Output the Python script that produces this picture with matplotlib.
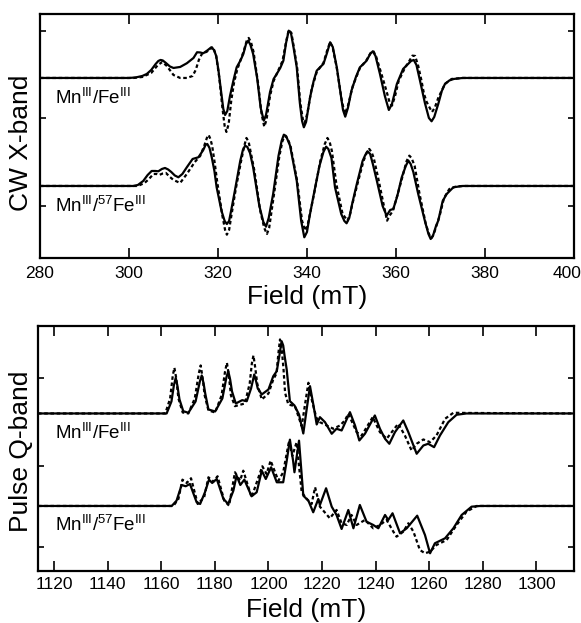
import matplotlib
matplotlib.use('Agg')
import matplotlib.pyplot as plt

plt.rcParams['font.family'] = ['Liberation Sans', 'DejaVu Sans']
plt.rcParams['mathtext.fontset'] = 'custom'
plt.rcParams['mathtext.rm'] = 'Liberation Sans'
plt.rcParams['mathtext.it'] = 'Liberation Sans'

# (field in mT, intensity in arbitrary units relative to the trace baseline)
# CW X-band, Mn(III)/Fe(III): experiment (solid) and simulation (dashed)
cw_fe_exp = [(280, 0), (300, 0), (301.5, 0.5), (303, 2), (304, 4), (305, 8), (306, 14),
             (306.6, 17), (307.1, 18), (307.6, 17.5), (308.3, 15), (309.2, 11.5),
             (310, 10), (311.5, 11), (313, 14.7), (314.5, 20), (315.3, 25.7),
             (316, 25.5), (316.7, 24.7), (317.6, 27.5), (318.5, 30.7), (319.1, 28),
             (319.6, 22), (320.1, 8), (320.6, -10), (321.2, -31), (321.6, -37),
             (322.1, -33), (322.7, -18), (323.5, -2), (324.2, 10.7), (325, 17),
             (325.7, 24), (326.3, 34), (326.8, 37.3), (327.3, 33), (327.9, 24),
             (328.8, 0), (329.6, -30), (330.3, -42.7), (330.8, -37), (331.7, -14),
             (332.5, -1), (333.2, 4), (334, 10), (334.7, 17.3), (335.3, 35),
             (335.9, 47.3), (336.4, 45), (337, 30), (337.7, 10.7), (338.4, -25),
             (338.9, -43), (339.3, -49.3), (339.8, -44), (340.7, -19.3), (341.5, -3),
             (342.2, 7.3), (343, 11), (343.7, 14), (344.5, 25), (345.2, 35.7),
             (345.8, 31), (346.7, 10.7), (347.7, -20), (348.1, -32), (348.6, -38.7),
             (349.2, -30), (350, -12.7), (351, 1), (351.9, 10.7), (352.7, 14),
             (353.4, 17.3), (354.2, 24), (354.8, 26.7), (355.4, 22), (356.4, 4),
             (357.5, -18), (358.4, -32), (359.1, -26), (360.2, -6), (361.6, 9),
             (362.5, 13), (363.4, 17), (364, 18), (364.6, 13), (365.4, -2.7),
             (366.5, -25), (367.4, -40), (368, -43.3), (368.6, -39), (369.5, -26),
             (370.3, -13), (371, -6), (372, -2.5), (373, -1), (375, 0), (400, 0)]
cw_fe_sim = [(280, 0), (301, 0), (303, 1), (305, 5), (306.5, 13), (307.5, 16),
             (308.5, 12), (310, 3), (311.5, 0), (313, 0), (314.3, 2), (315, 8),
             (315.7, 18), (316.5, 25), (317.4, 26), (318.3, 29), (318.9, 31),
             (319.6, 22), (320.3, 0), (321, -30), (321.5, -48), (321.9, -54),
             (322.4, -46), (323, -22), (323.6, -5), (324.3, 8), (325, 17),
             (325.8, 27), (326.5, 38), (326.9, 40), (327.4, 36), (328, 26),
             (329, -5), (329.8, -36), (330.4, -48.7), (330.9, -42), (331.7, -18),
             (332.5, -3), (333.3, 5), (334.5, 17), (335.3, 36), (335.9, 48),
             (336.5, 45), (337, 32), (337.8, 10), (338.5, -25), (339.1, -42),
             (339.5, -45), (340.1, -35), (341, -12), (342.2, 6), (343.7, 15),
             (344.5, 27), (345.2, 36), (345.8, 30), (346.7, 10), (347.8, -22),
             (348.5, -36), (349.2, -28), (350.3, -8), (351.9, 10), (353.4, 18),
             (354.3, 25), (354.9, 27), (355.5, 22), (356.6, 6), (357.8, -12),
             (358.6, -25), (359.1, -27.7), (359.8, -18), (360.6, -3), (362, 10),
             (363, 17), (363.7, 22.3), (364.3, 22), (365, 12), (365.7, -2),
             (366.3, -16), (366.9, -24), (367.6, -30), (368.1, -34), (368.7, -30),
             (369.5, -20), (371, -6), (372.5, -1), (375, 0), (400, 0)]

# CW X-band, Mn(III)/57Fe(III)
cw_57_exp = [(280, 0), (301, 0), (302, 1), (303.2, 5), (304.2, 11), (305.1, 15),
             (305.9, 15), (306.6, 14.7), (307.4, 17), (308.1, 18), (308.8, 16.5),
             (309.5, 14), (310.3, 10.5), (311.1, 8.7), (312, 12), (313, 18.7),
             (314.3, 27), (315.6, 28.7), (316.7, 36), (317.2, 41), (317.6, 42),
             (318.1, 38), (318.6, 28.7), (319.2, 15), (319.7, -1.3), (320.8, -25),
             (321.5, -35), (322, -38), (322.5, -35), (322.9, -26), (323.8, -4.7),
             (325, 25), (325.6, 36), (326.1, 40.3), (326.6, 39), (327.2, 33),
             (327.9, 18.7), (329.3, -20), (330.2, -36), (330.8, -40.7), (331.4, -32),
             (332.4, -8), (333.6, 30), (334.3, 45), (334.8, 51.3), (335.3, 50),
             (336.2, 40.3), (337.7, 5.3), (338.7, -35), (339.4, -51.3), (340, -46),
             (340.6, -30), (341.4, -11.3), (342.8, 20), (343.7, 34), (344.3, 39.3),
             (344.8, 37), (345.5, 28), (346.3, -1.3), (347.7, -28), (348.4, -35),
             (348.9, -37.3), (349.5, -32), (350.2, -17), (351.2, 2), (352.5, 25),
             (353.1, 31), (353.6, 34.7), (354.2, 32), (354.8, 22), (355.7, 5.3),
             (357, -20), (357.9, -29.7), (358.7, -24), (359.4, -23), (360.3, -10),
             (361.3, 8.7), (362.2, 20), (362.8, 25.3), (363.3, 22), (363.9, 14),
             (365, -8), (366.5, -35), (367.3, -48), (367.8, -53), (368.3, -50),
             (369, -40), (369.5, -34.7), (370.5, -15), (371.4, -8), (372.9, -1.3),
             (375, 0), (400, 0)]
cw_57_sim = [(280, 0), (302, 0), (303.5, 3), (304.5, 7), (305.5, 12), (306.2, 12),
             (306.8, 11), (307.6, 12.5), (308.3, 13), (309.2, 9), (310, 6),
             (311.5, 3), (313, 12), (314.8, 24), (316, 30), (316.9, 40), (317.5, 48),
             (317.9, 51), (318.3, 47), (318.7, 40), (319.3, 22), (319.8, 5),
             (321, -30), (321.6, -44), (322, -48.7), (322.5, -44), (323, -30),
             (324, -3), (325.2, 25), (325.9, 40), (326.4, 48), (326.9, 44),
             (327.3, 35), (328.2, 15), (329.5, -25), (330.4, -42), (331, -48),
             (331.5, -42), (332.6, -8), (333.8, 30), (334.5, 45), (335, 50),
             (335.6, 48), (336.3, 40), (337.8, 5), (338.9, -35), (339.6, -44.7),
             (340.2, -38), (341.5, -10), (343, 25), (344, 42), (344.6, 48),
             (345.1, 44), (345.6, 35), (346.6, 2), (348, -28), (349.1, -34.7),
             (349.7, -28), (350.2, -18), (351.4, 3), (352.7, 25), (353.5, 34),
             (354, 37), (354.5, 34), (355, 28), (356, 8), (357.2, -18), (358, -34.7),
             (358.5, -30), (359.3, -25), (360.4, -8), (361.5, 10), (362.4, 25),
             (363, 30.3), (363.5, 28), (364.2, 20), (365.3, -8), (366.7, -38),
             (367.5, -49), (368, -52), (368.5, -48), (369.8, -30), (370.8, -12),
             (372, -3), (373.5, -0.5), (375, 0), (400, 0)]

# Pulse Q-band, Mn(III)/Fe(III)
q_fe_exp = [(1114, 0), (1162, 0), (1163.8, 12), (1164.7, 28), (1165.4, 35.7),
            (1166, 28), (1166.8, 14), (1168.2, 2.3), (1170.1, 0.7), (1172.8, 12),
            (1174.4, 32), (1175.1, 38), (1175.8, 30), (1176.4, 20), (1177.6, 4),
            (1180.1, 2), (1182.8, 15), (1184.3, 36), (1185, 42.3), (1185.7, 34),
            (1186.4, 22), (1187.8, 10), (1190.2, 13.3), (1191.9, 12.3), (1193.5, 25),
            (1194.7, 39), (1195.4, 32), (1196, 25), (1197.5, 19), (1200, 24),
            (1201.8, 37.3), (1203.1, 42.3), (1204.2, 60), (1204.9, 72.3),
            (1205.5, 68), (1206, 58), (1206.8, 44), (1208, 12.3), (1209.7, 8),
            (1211.4, -1), (1213, -20), (1214.3, 5), (1215.5, 27.3), (1216.8, 8),
            (1218, -11), (1219.2, -3.7), (1221.1, -8.7), (1223.6, -20.3),
            (1225.4, -15.3), (1227.3, -17), (1230.4, 1.3), (1232.3, -12),
            (1233.9, -27), (1236, -20.3), (1239.7, -2), (1241.6, -15.3),
            (1243.5, -25.3), (1245.1, -30.3), (1247.2, -18.7), (1250.3, -7),
            (1252.2, -18.7), (1255.3, -40.3), (1257.8, -32), (1259.6, -30.3),
            (1261.8, -33.7), (1264, -22), (1267.1, -8.7), (1270.2, -1.3),
            (1273.9, 0), (1314, 0)]
q_fe_sim = [(1114, 0), (1161.5, 0), (1163.3, 15), (1164.3, 38), (1164.9, 45.7),
            (1165.6, 35), (1166.4, 15), (1168, 1), (1170.1, 0), (1172.5, 15),
            (1174, 40), (1174.7, 48), (1175.4, 36), (1176.2, 18), (1177.6, 3),
            (1180.1, 1), (1182.5, 18), (1183.8, 42), (1184.5, 50.7), (1185.2, 38),
            (1186, 18), (1187.5, 7.3), (1191.2, 10), (1193, 30), (1193.8, 50),
            (1194.4, 58), (1195.1, 45), (1195.8, 30), (1197.5, 14), (1200, 20),
            (1201.8, 34), (1203, 40), (1203.7, 60), (1204.3, 74), (1204.9, 66),
            (1205.6, 45), (1206.2, 20.7), (1207.4, 9), (1209.9, 7.3),
            (1212.4, -12.7), (1213.7, 10), (1214.9, 30.7), (1216.3, 12),
            (1217.4, 0.7), (1217.8, -4), (1219.2, -8.7), (1221.7, -12),
            (1224.2, -15.3), (1226.7, -12), (1228.5, -7), (1229.8, -0.3),
            (1232.9, -18.7), (1234.8, -22), (1238.9, -3.7), (1241.6, -18.7),
            (1244.1, -25.3), (1248.4, -10.3), (1250.9, -22), (1253.4, -37),
            (1255.3, -30.3), (1257.8, -26), (1260.3, -28.7), (1262.7, -22),
            (1265.9, -5.3), (1269, 0.7), (1273.9, 0.5), (1314, 0)]

# Pulse Q-band, Mn(III)/57Fe(III)
q_57_exp = [(1114, 0), (1163.9, 0), (1165.7, 5.3), (1167.6, 21), (1169.1, 19.7),
            (1170.7, 22), (1173.2, 3.7), (1174.5, 2), (1176.3, 13.7), (1177.8, 26.3),
            (1179, 23), (1180.7, 27), (1183.2, 7), (1185, 2), (1186.9, 15.3),
            (1188.1, 30.3), (1189.5, 21), (1191, 26.3), (1193.7, 9.7),
            (1195.6, 13.7), (1197.5, 35.3), (1199, 27), (1201, 38.7), (1203.1, 23.7),
            (1205.5, 23.7), (1206.8, 45), (1208, 66.3), (1209.2, 45), (1209.7, 33.7),
            (1210.3, 45), (1211.4, 65.3), (1213, 10.3), (1214.9, 5.3),
            (1216.7, -6.3), (1218.6, 7), (1219.2, 1), (1221.5, 17.7),
            (1223.6, -0.7), (1225.4, -9), (1227.3, -23), (1229.8, -4),
            (1231.7, -22.3), (1234.1, 1), (1236.6, -15.7), (1239.1, -19),
            (1241, -22.3), (1243.5, -9), (1244.7, -14), (1246.3, -7.3),
            (1249.1, -27.3), (1251.6, -22.3), (1255.5, -9.7), (1258.4, -29),
            (1260.3, -47.3), (1262.1, -37.3), (1265.9, -32.3), (1269, -22.3),
            (1272.1, -9), (1275.8, -0.7), (1279, 0), (1314, 0)]
q_57_sim = [(1114, 0), (1164.5, 0), (1166.4, 7), (1167.9, 26.3), (1169.5, 23),
            (1171.1, 27.7), (1173.6, 2), (1176, 8.7), (1177.6, 28.7), (1179.4, 24.3),
            (1181, 29.7), (1183.5, 5.3), (1185.3, 0.3), (1187.5, 33.7),
            (1189.4, 25.3), (1190.6, 35.3), (1193.7, 8.7), (1197.7, 39.7),
            (1199.3, 32), (1200.8, 45.3), (1203.7, 25.3), (1205.5, 33.7),
            (1207.7, 65.3), (1208.9, 50), (1210.5, 63.7), (1212.4, 13.7),
            (1214.3, 7), (1216.1, 2), (1217.4, 18.7), (1219.2, -0.7),
            (1222.9, -12.3), (1225.4, -4), (1227.3, -17.3), (1229.2, -19),
            (1231, -9), (1232.9, -19), (1236, -14), (1239.1, -22.3), (1241.6, -19),
            (1244.1, -14), (1246.6, -25.7), (1247.8, -30.7), (1250.3, -25.7),
            (1252.2, -17.3), (1254.1, -25.7), (1256.5, -44), (1258.4, -47.3),
            (1260.3, -45.7), (1262.7, -39), (1266.5, -34), (1270.2, -19),
            (1273.9, -5.7), (1277.7, 0), (1314, 0)]

cw_offsets = [0, -108]
q_offsets = [0, -92.5]
cw_xticks = [280, 300, 320, 340, 360, 380, 400]
q_xticks = [1120, 1140, 1160, 1180, 1200, 1220, 1240, 1260, 1280, 1300]
lbl_fe = r'Mn$^{\rm III}$/Fe$^{\rm III}$'
lbl_57 = r'Mn$^{\rm III}$/$^{57}$Fe$^{\rm III}$'

solid = dict(color='black', lw=1.6, solid_joinstyle='round')
dashed = dict(color='black', lw=1.6, linestyle=(0, (1.6, 1.2)))


def draw(ax, trace, offset, style):
    xs = [p[0] for p in trace]
    ys = [p[1] + offset for p in trace]
    ax.plot(xs, ys, **style)


fig = plt.figure(figsize=(5.81, 6.23), dpi=100)
ax1 = fig.add_axes([0.0688, 0.5859, 0.9191, 0.3917])
ax2 = fig.add_axes([0.0654, 0.0835, 0.9225, 0.3933])

# top panel: CW X-band
draw(ax1, cw_fe_sim, cw_offsets[0], dashed)
draw(ax1, cw_fe_exp, cw_offsets[0], solid)
draw(ax1, cw_57_sim, cw_offsets[1], dashed)
draw(ax1, cw_57_exp, cw_offsets[1], solid)
ax1.text(283.4, -20, lbl_fe, fontsize=13.5, va='center', ha='left')
ax1.text(283.4, -128, lbl_57, fontsize=13.5, va='center', ha='left')
ax1.set_xlim(280, 400)
ax1.set_ylim(-180, 64)
ax1.set_xticks(cw_xticks)
# last label sits a little inside the figure edge, as in the original
ax1.set_xticklabels([str(t) for t in cw_xticks[:-1]] + [''])
ax1.annotate(str(cw_xticks[-1]), xy=(1, 0), xycoords='axes fraction',
             xytext=(-5.2, -6), textcoords='offset points',
             ha='center', va='top', fontsize=12.5)
ax1.set_yticks([47, -40, -128])
ax1.set_xlabel('Field (mT)', fontsize=19, labelpad=3)
ax1.set_ylabel('CW X-band', fontsize=19, va='bottom')
ax1.yaxis.set_label_coords(-0.013, 0.471)

# bottom panel: pulse Q-band
draw(ax2, q_fe_sim, q_offsets[0], dashed)
draw(ax2, q_fe_exp, q_offsets[0], solid)
draw(ax2, q_57_sim, q_offsets[1], dashed)
draw(ax2, q_57_exp, q_offsets[1], solid)
ax2.text(1120.3, -19.5, lbl_fe, fontsize=13.5, va='center', ha='left')
ax2.text(1120.3, -111.5, lbl_57, fontsize=13.5, va='center', ha='left')
ax2.set_xlim(1114, 1314)
ax2.set_ylim(-157.5, 87.5)
ax2.set_xticks(q_xticks)
ax2.set_yticks([35.5, -52.5, -133.5])
ax2.set_xlabel('Field (mT)', fontsize=19, labelpad=4)
ax2.set_ylabel('Pulse Q-band', fontsize=19, va='bottom')
ax2.yaxis.set_label_coords(-0.009, 0.488)

for ax, pad in ((ax1, 6), (ax2, 4.5)):
    for s in ax.spines.values():
        s.set_linewidth(1.6)
    ax.tick_params(axis='x', direction='in', length=7, width=1.2,
                   top=True, labelsize=12.5, pad=pad)
    ax.tick_params(axis='y', direction='in', length=4, width=1.2,
                   right=True, labelleft=False)

fig.savefig('out.png', dpi=100)
